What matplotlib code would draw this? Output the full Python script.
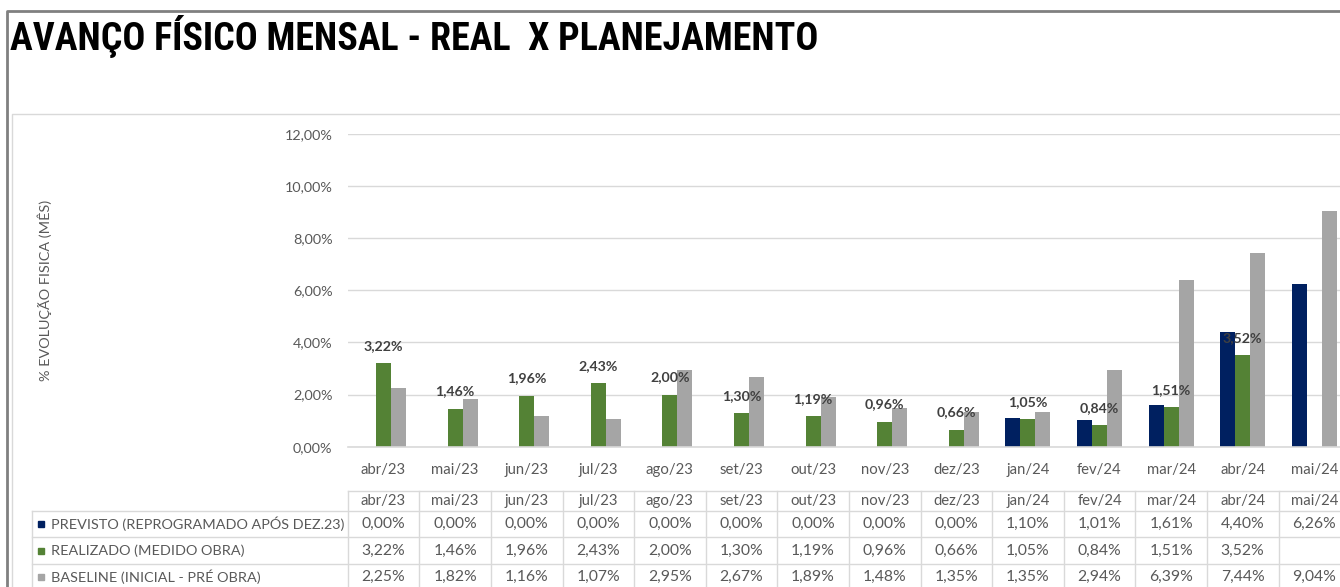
import numpy as np
import matplotlib
matplotlib.use("Agg")
import matplotlib.pyplot as plt
from matplotlib.lines import Line2D

## Dados do gráfico
meses = ["abr/23", "mai/23", "jun/23", "jul/23", "ago/23", "set/23", "out/23",
         "nov/23", "dez/23", "jan/24", "fev/24", "mar/24", "abr/24", "mai/24"]
previsto = [0.00, 0.00, 0.00, 0.00, 0.00, 0.00, 0.00, 0.00, 0.00, 1.10, 1.01, 1.61, 4.40, 6.26]
realizado = [3.22, 1.46, 1.96, 2.43, 2.00, 1.30, 1.19, 0.96, 0.66, 1.05, 0.84, 1.51, 3.52, np.nan]
baseline = [2.25, 1.82, 1.16, 1.07, 2.95, 2.67, 1.89, 1.48, 1.35, 1.35, 2.94, 6.39, 7.44, 9.04]
series_nomes = ["PREVISTO (REPROGRAMADO APÓS DEZ.23)", "REALIZADO (MEDIDO OBRA)",
                "BASELINE (INICIAL - PRÉ OBRA)"]
cores = ["#002060", "#548235", "#A5A5A5"]

W, H = 1340, 587
FONTE = "Lato"
CINZA_TXT = "#595959"
CINZA_GRADE = "#D9D9D9"

def fx(px):
    return px / W

def fy(py):
    return 1 - py / H

def fmt(v):
    if np.isnan(v):
        return ""
    return f"{v:.2f}%".replace(".", ",")

fig = plt.figure(figsize=(W / 100, H / 100), dpi=100)
fig.patch.set_facecolor("white")

## Eixo principal (colunas)
passo = 71.6
x0 = 347.7
x1 = x0 + passo * len(meses)
ax = fig.add_axes([fx(x0), fy(446.7), fx(x1 - x0), (446.7 - 134) / H])
x = np.arange(len(meses))
larg = 15 / passo
for i, (vals, cor) in enumerate(zip([previsto, realizado, baseline], cores)):
    ax.bar(x + (i - 1) * larg, vals, width=larg, color=cor, zorder=2)

## Rótulos apenas na série REALIZADO
for xi, v in zip(x, realizado):
    if not np.isnan(v):
        ax.annotate(fmt(v), (xi, v), xytext=(0, 8), textcoords="offset points",
                    ha="center", va="bottom", fontsize=10.2, fontweight="bold",
                    color="#404040", family=FONTE, zorder=3)

ax.set_xlim(-0.5, len(meses) - 0.5)
ax.set_ylim(0, 12)
ax.set_yticks(np.arange(0, 12.1, 2))
ax.set_yticklabels([fmt(v) for v in np.arange(0, 12.1, 2)])
ax.set_xticks(x)
ax.set_xticklabels(meses)
ax.tick_params(length=0, labelcolor=CINZA_TXT)
ax.tick_params(axis="y", pad=11, labelsize=10.4)
ax.tick_params(axis="x", pad=12, labelsize=10.7)
for lbl in ax.get_xticklabels() + ax.get_yticklabels():
    lbl.set_family(FONTE)
ax.grid(axis="y", color=CINZA_GRADE, linewidth=1, zorder=0)
for s in ["top", "right", "left"]:
    ax.spines[s].set_visible(False)
ax.spines["bottom"].set_color(CINZA_GRADE)
ax.spines["bottom"].set_linewidth(1.2)
ax.set_facecolor("none")

fig.text(fx(45), fy(290), "% EVOLUÇÃO FISICA (MÊS)", rotation=90, ha="center",
         va="center", fontsize=10.4, color=CINZA_TXT, family=FONTE)

## Tabela de dados abaixo do gráfico
tx0 = 32
tab = fig.add_axes([fx(tx0), 0, fx(x1 - tx0), fy(491)])
tab.set_xlim(-0.5 - (x0 - tx0) / passo, len(meses) - 0.5)
tab.set_ylim(587, 491)
tab.axis("off")
lin_cab = 511
alt = 26.5
linhas = [lin_cab + k * alt for k in range(4)]
kw = dict(color=CINZA_GRADE, linewidth=1, clip_on=False)
tab.plot([-0.5, len(meses) - 0.5], [491, 491], **kw)
tab.plot([tab.get_xlim()[0], len(meses) - 0.5], [lin_cab, lin_cab], **kw)
for yl in linhas[1:]:
    tab.plot([tab.get_xlim()[0], len(meses) - 0.5], [yl, yl], **kw)
tab.plot([tab.get_xlim()[0]] * 2, [lin_cab, 600], **kw)
for k in range(len(meses) + 1):
    tab.plot([k - 0.5, k - 0.5], [491, 600], **kw)
for xi, m in zip(x, meses):
    tab.text(xi, (491 + lin_cab) / 2, m, ha="center", va="center", fontsize=10.7,
             color=CINZA_TXT, family=FONTE)
for r, (nome, cor, vals) in enumerate(zip(series_nomes, cores, [previsto, realizado, baseline])):
    yc = linhas[r] + alt / 2
    xm = tab.get_xlim()[0] + 9 / passo
    tab.plot([xm], [yc], marker="s", markersize=5, color=cor, clip_on=False)
    tab.text(xm + 10 / passo, yc, nome, ha="left", va="center", fontsize=10.35,
             color=CINZA_TXT, family=FONTE)
    for xi, v in zip(x, vals):
        tab.text(xi, yc, fmt(v), ha="center", va="center", fontsize=11.3,
                 color=CINZA_TXT, family=FONTE)

## Título e bordas
titulo = fig.text(fx(10), fy(36), "AVANÇO FÍSICO MENSAL - REAL  X PLANEJAMENTO",
                  ha="left", va="center", fontsize=27.4, fontweight="heavy", color="black",
                  family=["Roboto Condensed", "Noto Sans Condensed", "Roboto", "DejaVu Sans"],
                  fontstretch="condensed")
fig.add_artist(Line2D([fx(7), fx(7), 1], [0, fy(11), fy(11)], color="#808080", linewidth=2))
fig.add_artist(Line2D([fx(12), fx(12), 1], [0, fy(114), fy(114)], color=CINZA_GRADE, linewidth=1))

plt.savefig("out.png", dpi=100)
